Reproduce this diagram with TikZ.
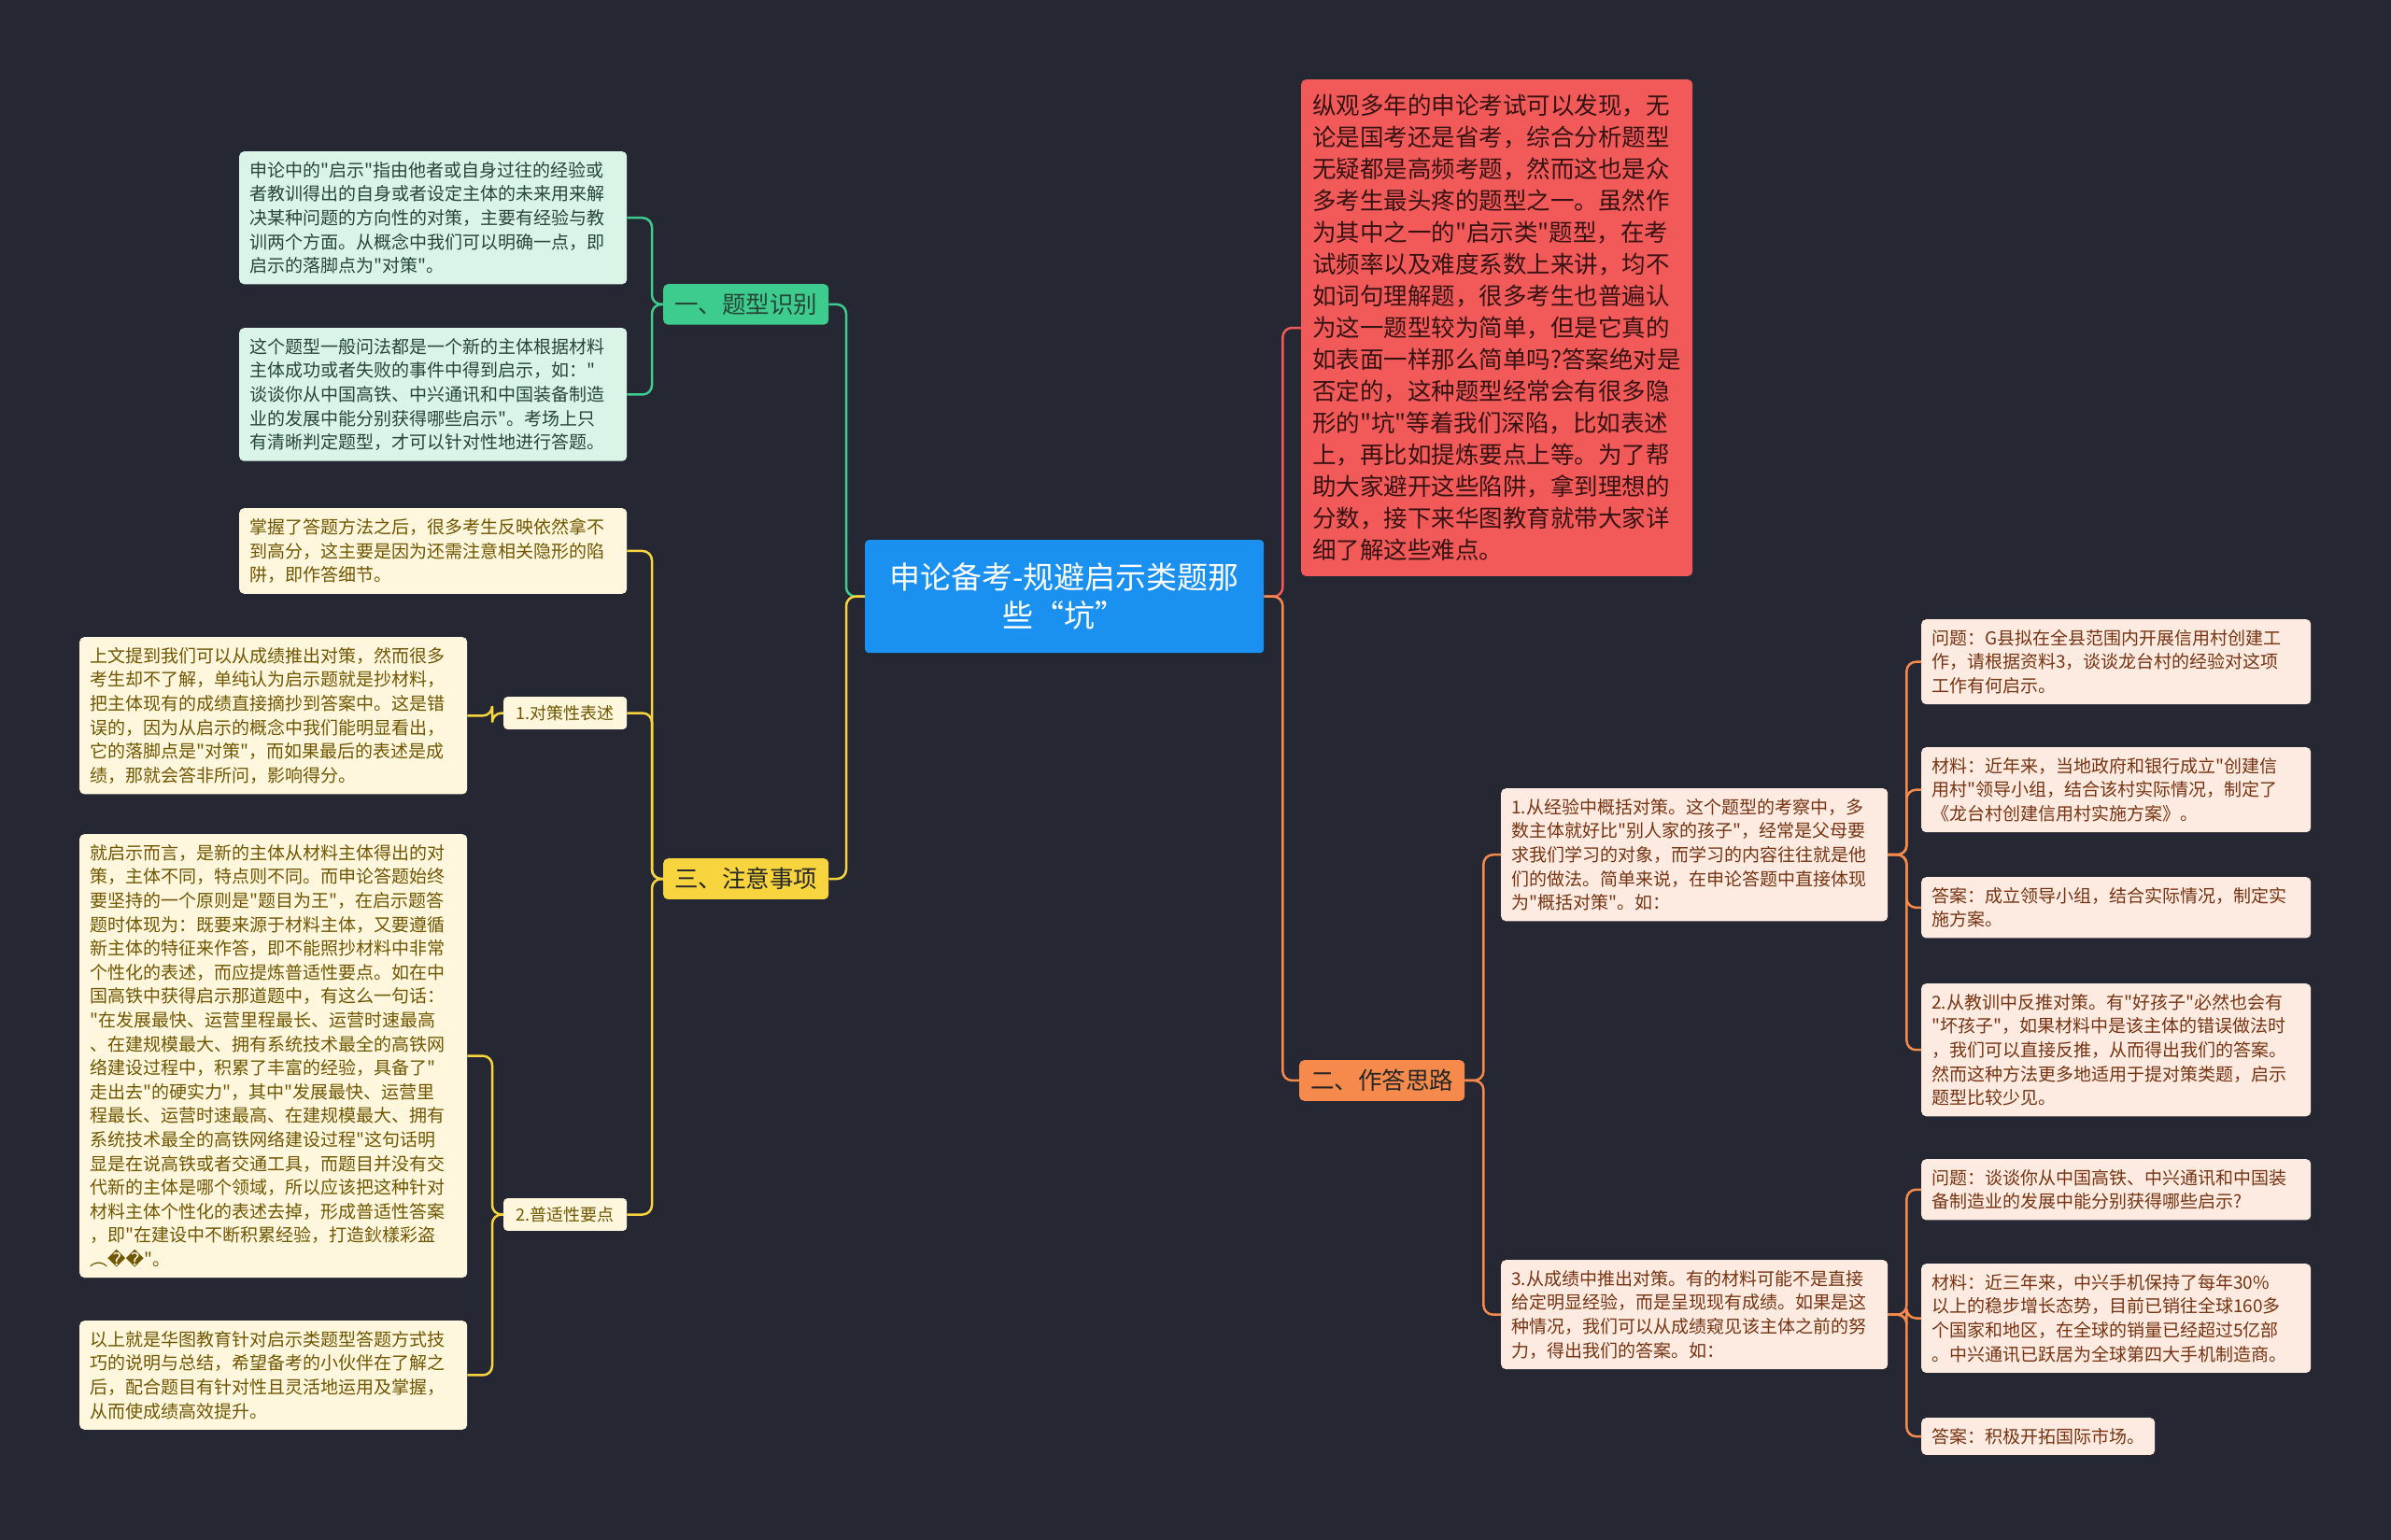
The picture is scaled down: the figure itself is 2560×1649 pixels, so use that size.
\documentclass[tikz,border=0pt]{standalone}
\usepackage{fontspec}
\newfontfamily\cjk{Noto Sans CJK SC}
\newfontfamily\dejavu{DejaVu Sans}
\definecolor{bg}{RGB}{37,39,50}
\definecolor{rootfill}{RGB}{26,144,240}
\definecolor{introfill}{RGB}{242,90,90}
\definecolor{introtext}{RGB}{55,18,18}
\definecolor{gmain}{RGB}{62,204,142}
\definecolor{gfill}{RGB}{218,244,231}
\definecolor{gtext}{RGB}{38,70,55}
\definecolor{ymain}{RGB}{248,212,62}
\definecolor{yfill}{RGB}{255,247,221}
\definecolor{ytext}{RGB}{112,86,0}
\definecolor{omain}{RGB}{245,138,76}
\definecolor{ofill}{RGB}{253,234,224}
\definecolor{otext}{RGB}{118,52,18}
\tikzset{
        link/.style={line width=2.5pt, rounded corners=10pt},
        root/.style={fill=rootfill, text=white, rounded corners=4pt, align=center, text width=403pt,
          minimum height=121pt, inner xsep=12pt, font=\cjk\fontsize{33}{41}\selectfont, anchor=north west},
        intro/.style={fill=introfill, text=introtext, rounded corners=5pt, align=left, text width=395pt,
          inner xsep=12pt, inner ysep=16pt, font=\cjk\fontsize{25.5}{34}\selectfont, anchor=north west},
        branch/.style={rounded corners=5pt, inner xsep=12pt, inner ysep=10pt, font=\cjk\fontsize{25.5}{34}\selectfont, anchor=north west},
        leaf/.style={rounded corners=5pt, align=left, inner xsep=11pt, inner ysep=11pt,
          font=\cjk\fontsize{19}{25.6}\selectfont, anchor=north west},
        tag/.style={rounded corners=4pt, inner xsep=10pt, inner ysep=9pt, minimum width=132pt,
          font=\cjk\fontsize{18}{22}\selectfont, anchor=north west},
        gbranch/.style={branch, fill=gmain, text=gtext},
        ybranch/.style={branch, fill=ymain, text=black!85},
        obranch/.style={branch, fill=omain, text=black!85},
        gleaf/.style={leaf, fill=gfill, text=gtext},
        yleaf/.style={leaf, fill=yfill, text=ytext},
        oleaf/.style={leaf, fill=ofill, text=otext},
        ytag/.style={tag, fill=yfill, text=ytext}
          }
\begin{document}
\begin{tikzpicture}[x=1pt,y=-1pt]
        \fill[bg] (0,0) rectangle (2560,1649);
        \useasboundingbox (0,0) rectangle (2560,1649);

        \node[root] (root) at (926,578) {申论备考-规避启示类题那\\些“坑”};
        \node[intro] (intro) at (1393,85) {纵观多年的申论考试可以发现，无\\论是国考还是省考，综合分析题型\\无疑都是高频考题，然而这也是众\\多考生最头疼的题型之一。虽然作\\为其中之一的"启示类"题型，在考\\试频率以及难度系数上来讲，均不\\如词句理解题，很多考生也普遍认\\为这一题型较为简单，但是它真的\\如表面一样那么简单吗?答案绝对是\\否定的，这种题型经常会有很多隐\\形的"坑"等着我们深陷，比如表述\\上，再比如提炼要点上等。为了帮\\助大家避开这些陷阱，拿到理想的\\分数，接下来华图教育就带大家详\\细了解这些难点。};

        \node[gbranch] (tx) at (710,304) {一、题型识别};
        \node[ybranch] (zy) at (710,919) {三、注意事项};
        \node[obranch] (zd) at (1391,1135) {二、作答思路};

        \node[gleaf, text width=393pt] (tx1) at (256,162) {申论中的"启示"指由他者或自身过往的经验或\\者教训得出的自身或者设定主体的未来用来解\\决某种问题的方向性的对策，主要有经验与教\\训两个方面。从概念中我们可以明确一点，即\\启示的落脚点为"对策"。};
        \node[gleaf, text width=393pt] (tx2) at (256,351) {这个题型一般问法都是一个新的主体根据材料\\主体成功或者失败的事件中得到启示，如："\\谈谈你从中国高铁、中兴通讯和中国装备制造\\业的发展中能分别获得哪些启示"。考场上只\\有清晰判定题型，才可以针对性地进行答题。};

        \node[yleaf, text width=393pt] (zy1) at (256,544) {掌握了答题方法之后，很多考生反映依然拿不\\到高分，这主要是因为还需注意相关隐形的陷\\阱，即作答细节。};
        \node[ytag] (dc) at (539,746) {1.对策性表述};
        \node[yleaf, text width=393pt] (dc1) at (85,682) {上文提到我们可以从成绩推出对策，然而很多\\考生却不了解，单纯认为启示题就是抄材料，\\把主体现有的成绩直接摘抄到答案中。这是错\\误的，因为从启示的概念中我们能明显看出，\\它的落脚点是"对策"，而如果最后的表述是成\\绩，那就会答非所问，影响得分。};
        \node[ytag] (pd) at (539,1283) {2.普适性要点};
        \node[yleaf, text width=393pt] (pd1) at (85,893) {就启示而言，是新的主体从材料主体得出的对\\策，主体不同，特点则不同。而申论答题始终\\要坚持的一个原则是"题目为王"，在启示题答\\题时体现为：既要来源于材料主体，又要遵循\\新主体的特征来作答，即不能照抄材料中非常\\个性化的表述，而应提炼普适性要点。如在中\\国高铁中获得启示那道题中，有这么一句话：\\"在发展最快、运营里程最长、运营时速最高\\、在建规模最大、拥有系统技术最全的高铁网\\络建设过程中，积累了丰富的经验，具备了"\\走出去"的硬实力"，其中"发展最快、运营里\\程最长、运营时速最高、在建规模最大、拥有\\系统技术最全的高铁网络建设过程"这句话明\\显是在说高铁或者交通工具，而题目并没有交\\代新的主体是哪个领域，所以应该把这种针对\\材料主体个性化的表述去掉，形成普适性答案\\，即"在建设中不断积累经验，打造鈥樣彩盗\\︵{\dejavu ��}"。};
        \node[yleaf, text width=393pt] (pd2) at (85,1414) {以上就是华图教育针对启示类题型答题方式技\\巧的说明与总结，希望备考的小伙伴在了解之\\后，配合题目有针对性且灵活地运用及掌握，\\从而使成绩高效提升。};

        \node[oleaf, text width=392pt] (zd1) at (1607,844) {1.从经验中概括对策。这个题型的考察中，多\\数主体就好比"别人家的孩子"，经常是父母要\\求我们学习的对象，而学习的内容往往就是他\\们的做法。简单来说，在申论答题中直接体现\\为"概括对策"。如：};
        \node[oleaf, text width=392pt] (zd3) at (1607,1349) {3.从成绩中推出对策。有的材料可能不是直接\\给定明显经验，而是呈现现有成绩。如果是这\\种情况，我们可以从成绩窥见该主体之前的努\\力，得出我们的答案。如：};

        \node[oleaf, text width=395pt] (wt1) at (2057,663) {问题：G县拟在全县范围内开展信用村创建工\\作，请根据资料3，谈谈龙台村的经验对这项\\工作有何启示。};
        \node[oleaf, text width=395pt] (cl1) at (2057,800) {材料：近年来，当地政府和银行成立"创建信\\用村"领导小组，结合该村实际情况，制定了\\《龙台村创建信用村实施方案》。};
        \node[oleaf, text width=395pt] (da1) at (2057,939) {答案：成立领导小组，结合实际情况，制定实\\施方案。};
        \node[oleaf, text width=395pt] (zd2) at (2057,1053) {2.从教训中反推对策。有"好孩子"必然也会有\\"坏孩子"，如果材料中是该主体的错误做法时\\，我们可以直接反推，从而得出我们的答案。\\然而这种方法更多地适用于提对策类题，启示\\题型比较少见。};
        \node[oleaf, text width=395pt] (wt3) at (2057,1241) {问题：谈谈你从中国高铁、中兴通讯和中国装\\备制造业的发展中能分别获得哪些启示?};
        \node[oleaf, text width=395pt] (cl3) at (2057,1353) {材料：近三年来，中兴手机保持了每年30\%\\以上的稳步增长态势，目前已销往全球160多\\个国家和地区，在全球的销量已经超过5亿部\\。中兴通讯已跃居为全球第四大手机制造商。};
        \node[oleaf] (da3) at (2057,1518) {答案：积极开拓国际市场。};

        \draw[link, gmain] (root.west) -- ++(-20,0) |- (tx.east);
        \draw[link, ymain] (root.west) -- ++(-20,0) |- (zy.east);
        \draw[link, introfill] (root.east) -- ++(20,0) |- (intro.west);
        \draw[link, omain] (root.east) -- ++(20,0) |- (zd.west);
        \foreach \t in {tx1,tx2}
          \draw[link, gmain] (tx.west) -- ++(-12,0) |- (\t.east);
        \foreach \t in {zy1,dc,pd}
          \draw[link, ymain] (zy.west) -- ++(-12,0) |- (\t.east);
        \draw[link, ymain] (dc.west) -- ++(-12,0) |- (dc1.east);
        \foreach \t in {pd1,pd2}
          \draw[link, ymain] (pd.west) -- ++(-12,0) |- (\t.east);
        \foreach \t in {zd1,zd3}
          \draw[link, omain] (zd.east) -- ++(20,0) |- (\t.west);
        \foreach \t in {wt1,cl1,da1,zd2}
          \draw[link, omain] (zd1.east) -- ++(20,0) |- (\t.west);
        \foreach \t in {wt3,cl3,da3}
          \draw[link, omain] (zd3.east) -- ++(20,0) |- (\t.west);
\end{tikzpicture}
\end{document}
